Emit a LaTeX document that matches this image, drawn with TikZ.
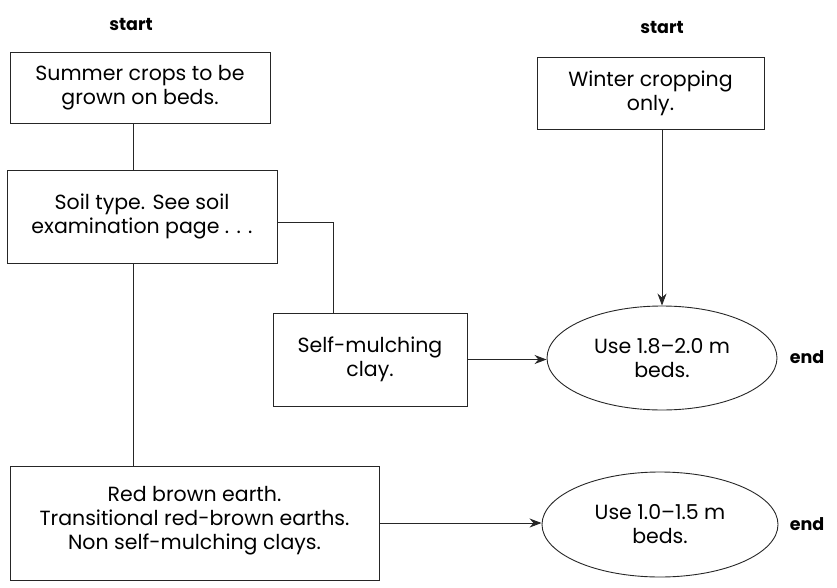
\documentclass[tikz,border=0pt]{standalone}
\usepackage{fontspec}
\setmainfont{Poppins}
\usetikzlibrary{arrows.meta,shapes.geometric}
\begin{document}
\begin{tikzpicture}[x=1pt,y=-1pt,
  every node/.style={font=\fontsize{20.5}{24}\selectfont, align=center, inner sep=0pt},
  stepbox/.style={draw=black!85, line width=0.9pt, rectangle},
  endoval/.style={draw=black!85, line width=0.9pt, ellipse},
  tag/.style={font=\fontsize{17.5}{20}\selectfont\bfseries},
  link/.style={draw=black!85, line width=0.9pt},
  flow/.style={link, -{Stealth[length=12pt,width=9pt]}}]
  \useasboundingbox (0,0) rectangle (837,588);

  % start markers
  \node[tag] (s1) at (131,25) {start};
  \node[tag] (s2) at (662,27) {start};

  % process boxes
  \node[stepbox, minimum width=260, minimum height=71] (crops) at (140,87.5)
    {Summer crops to be\\grown on beds.};
  \node[stepbox, minimum width=270, minimum height=93] (soil) at (142,216.5)
    {Soil type. See soil\\examination page . . .};
  \node[stepbox, minimum width=194, minimum height=93] (clay) at (370,359.5)
    {Self-mulching\\clay.};
  \node[stepbox, minimum width=227, minimum height=72] (winter) at (650.5,93)
    {Winter cropping\\only.};
  \node[stepbox, minimum width=369, minimum height=114] (earth) at (194.5,523)
    {Red brown earth.\\Transitional red-brown earths.\\Non self-mulching clays.\\[-14pt]};

  % outcomes
  \node[endoval, minimum width=230, minimum height=104] (wide) at (662,358)
    {Use 1.8--2.0 m\\beds.};
  \node[endoval, minimum width=236, minimum height=105] (narrow) at (660,524.5)
    {Use 1.0--1.5 m\\beds.};
  \node[tag] (e1) at (807,357) {end};
  \node[tag] (e2) at (807,524) {end};

  % routing guides
  \coordinate (trunk) at (133,0);
  \coordinate (branch) at (333,222);

  % connectors
  \draw[link] (crops.south -| trunk) -- (soil.north -| trunk);
  \draw[link] (soil.east |- branch) -- (branch) -- (clay.north -| branch);
  \draw[link] (soil.south -| trunk) -- (earth.north -| trunk);
  \draw[flow] (clay.east) -- (clay.east -| wide.west);
  \draw[flow] (winter.south -| wide.north) -- (wide.north);
  \draw[flow] (earth.east) -- (earth.east -| narrow.west);
\end{tikzpicture}
\end{document}
